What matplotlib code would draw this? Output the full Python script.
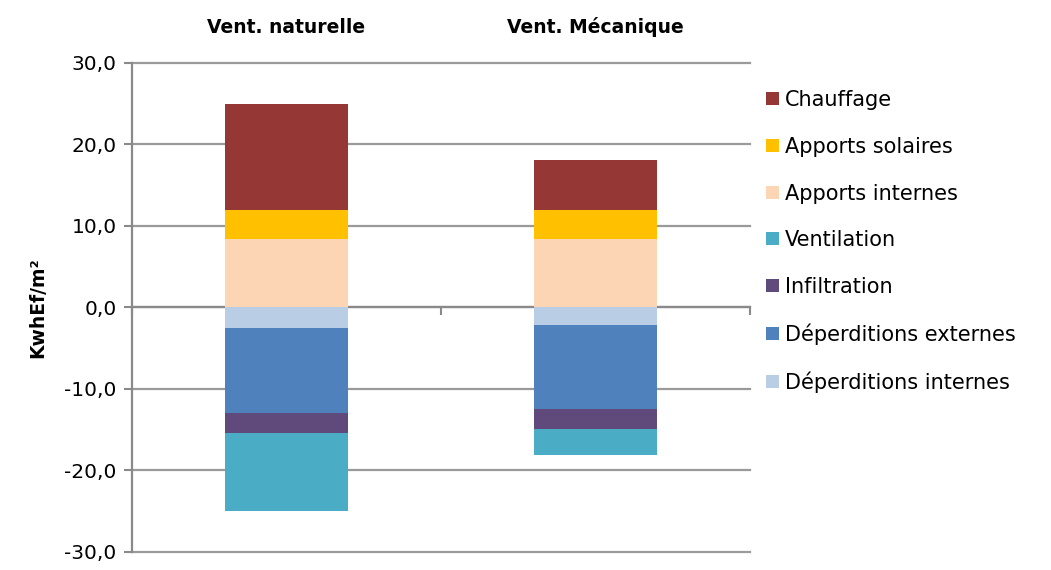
import numpy as np
import matplotlib.pyplot as plt

# categories (top labels)
categories = ['Vent. naturelle', 'Vent. Mécanique']

# positive side, stacked from 0 upwards
pos_names = ['Apports internes', 'Apports solaires', 'Chauffage']
pos_values = {
    'Apports internes': [8.4, 8.4],
    'Apports solaires': [3.6, 3.6],
    'Chauffage': [13.0, 6.1],
}

# negative side, stacked from 0 downwards
neg_names = ['Déperditions internes', 'Déperditions externes', 'Infiltration', 'Ventilation']
neg_values = {
    'Déperditions internes': [-2.5, -2.2],
    'Déperditions externes': [-10.5, -10.3],
    'Infiltration': [-2.4, -2.4],
    'Ventilation': [-9.6, -3.2],
}

colors = {
    'Chauffage': '#953735',
    'Apports solaires': '#FFC000',
    'Apports internes': '#FCD5B5',
    'Ventilation': '#4BACC6',
    'Infiltration': '#604A7B',
    'Déperditions externes': '#4F81BD',
    'Déperditions internes': '#B9CDE5',
}
legend_order = ['Chauffage', 'Apports solaires', 'Apports internes', 'Ventilation',
                'Infiltration', 'Déperditions externes', 'Déperditions internes']

fig = plt.figure(figsize=(10.51, 5.70), dpi=100)
ax = fig.add_axes([0.1256, 0.0316, 0.588, 0.858])

x = np.arange(len(categories))
width = 0.4
handles = {}

bottom = np.zeros(len(categories))
for name in pos_names:
    vals = np.array(pos_values[name])
    handles[name] = ax.bar(x, vals, width, bottom=bottom, color=colors[name], zorder=3)
    bottom += vals

bottom = np.zeros(len(categories))
for name in neg_names:
    vals = np.array(neg_values[name])
    handles[name] = ax.bar(x, vals, width, bottom=bottom, color=colors[name], zorder=3)
    bottom += vals

ax.set_xlim(-0.5, 1.5)
ax.set_ylim(-30, 30)
yticks = np.arange(-30, 31, 10)
ax.set_yticks(yticks)
ax.set_yticklabels([f'{v:.1f}'.replace('.', ',') for v in yticks], fontsize=14.5)
for v in yticks:
    ax.axhline(v, color='#9a9a9a', linewidth=1.6, zorder=0, clip_on=False)

# axis line at zero with separators between categories
ax.set_xticks([-0.5, 0.5, 1.5])
ax.set_xticklabels([])
ax.tick_params(axis='x', bottom=True, top=False, direction='out',
               length=6, width=1.5, color='#8a8a8a')
ax.spines['bottom'].set_position(('data', 0))
ax.spines['bottom'].set_color('#8a8a8a')
ax.spines['bottom'].set_linewidth(1.6)
ax.spines['left'].set_color('#8a8a8a')
ax.spines['left'].set_linewidth(1.6)
ax.spines['top'].set_visible(False)
ax.spines['right'].set_visible(False)
ax.tick_params(axis='y', length=6, width=1.5, color='#8a8a8a', pad=5)

# category labels on top
sec = ax.secondary_xaxis('top')
sec.set_xticks(x)
sec.set_xticklabels(categories, fontsize=13.5, fontweight='bold')
sec.tick_params(length=0, pad=19)
sec.spines['top'].set_visible(False)

ax.set_ylabel('KwhEf/m²', fontsize=13.5, fontweight='bold', labelpad=12)

fig.legend([handles[n] for n in legend_order], legend_order,
           loc='center left', bbox_to_anchor=(0.729, 0.576), frameon=False,
           fontsize=15, handlelength=0.6, handleheight=0.6, handletextpad=0.3,
           labelspacing=1.28, borderpad=0, borderaxespad=0)

fig.savefig('out.png', dpi=100)
